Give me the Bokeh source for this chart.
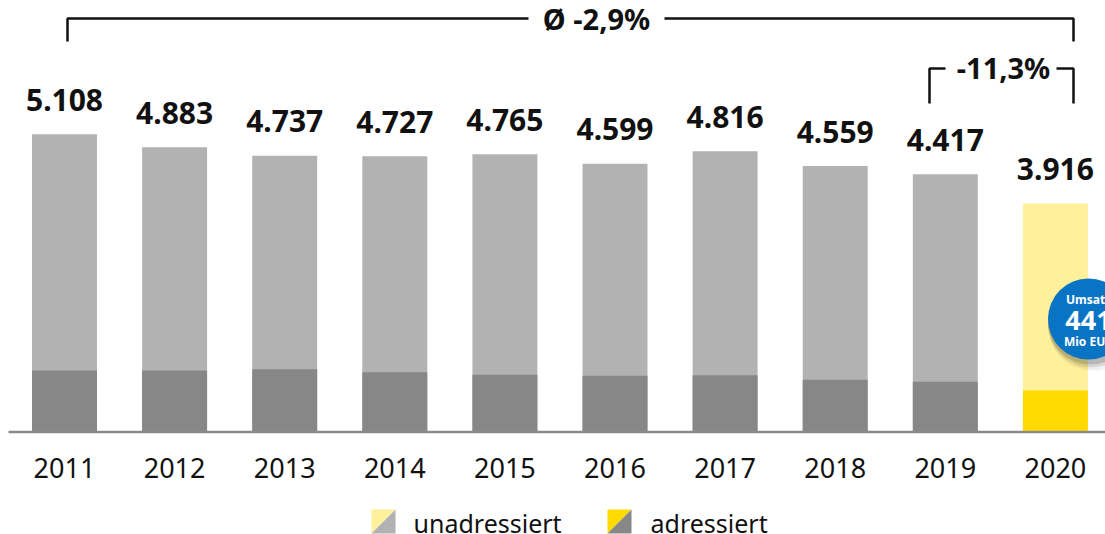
from bokeh.plotting import figure
from bokeh.models import Range1d
from bokeh.core.properties import value
from bokeh.embed import file_html
from bokeh.resources import INLINE

# ---- data ----
years = ["2011", "2012", "2013", "2014", "2015", "2016", "2017", "2018", "2019", "2020"]
total = [5108, 4883, 4737, 4727, 4765, 4599, 4816, 4559, 4417, 3916]
addressed = [1041, 1041, 1063, 1012, 967, 950, 960, 881, 847, 697]
total_labels = ["5.108", "4.883", "4.737", "4.727", "4.765", "4.599", "4.816", "4.559", "4.417", "3.916"]
avg_label = "Ø -2,9%"
last_change_label = "-11,3%"
badge_lines = ["Umsatz", "441", "Mio EUR"]
legend_names = ["unadressiert", "adressiert"]

# ---- styles ----
GRAY_LIGHT = "#b2b2b2"
GRAY_DARK = "#878787"
YEL_LIGHT = "#fff09b"
YEL_DARK = "#ffda00"
BLUE = "#0a74c4"
FONT = "Noto Sans"

# page-pixel -> data helpers (for decorations only)
X0, DX = 64.0, 110.1
BASE, UNIT = 430.5, 5108 / 296.8
def xd(px):
    return (px - X0) / DX
def yd(py):
    return (BASE - py) * UNIT

W, H = 1105, 534
p = figure(width=W, height=H, output_backend="svg", toolbar_location=None,
           x_range=Range1d(xd(0), xd(W)), y_range=Range1d(yd(H), yd(0)),
           min_border=0, outline_line_color=None)
p.axis.visible = False
p.grid.visible = False
p.background_fill_color = "white"

idx = list(range(len(years)))
top_colors = [GRAY_LIGHT] * (len(years) - 1) + [YEL_LIGHT]
bot_colors = [GRAY_DARK] * (len(years) - 1) + [YEL_DARK]

p.vbar(x=idx, top=total, bottom=0, width=0.59, fill_color=top_colors, line_color=None)
p.vbar(x=idx, top=addressed, bottom=0, width=0.59, fill_color=bot_colors, line_color=None)

# baseline
p.line([xd(8), xd(W)], [yd(431.5), yd(431.5)], line_color="#8a8a8a", line_width=2.5)

# value labels
p.text(x=idx, y=total, text=total_labels, y_offset=-34.5, text_align="center",
       text_baseline="middle", text_font=value(FONT), text_font_style="bold",
       text_font_size="30px", text_color="#111111")
# year labels
p.text(x=idx, y=[0] * len(idx), text=years, y_offset=37, text_align="center",
       text_baseline="middle", text_font=value(FONT), text_font_size="27px",
       text_color="#111111")

# big bracket
p.line([xd(67), xd(67), xd(528)], [yd(41), yd(18), yd(18)], line_color="#111111", line_width=2.5)
p.line([xd(664), xd(1073), xd(1073)], [yd(18), yd(18), yd(41)], line_color="#111111", line_width=2.5)
p.text(x=[xd(596)], y=[yd(18)], text=[avg_label], text_align="center", text_baseline="middle",
       text_font=value(FONT), text_font_style="bold", text_font_size="29px", text_color="#111111")

# small bracket
p.line([xd(929), xd(929), xd(945)], [yd(103), yd(68), yd(68)], line_color="#111111", line_width=2.5)
p.line([xd(1056), xd(1073), xd(1073)], [yd(68), yd(68), yd(103)], line_color="#111111", line_width=2.5)
p.text(x=[xd(1003)], y=[yd(67)], text=[last_change_label], text_align="center", text_baseline="middle",
       text_font=value(FONT), text_font_style="bold", text_font_size="29px", text_color="#111111")

# blue badge with soft shadow
cx, cy = 1088, 318.5
for off, a in [(7, 0.06), (5, 0.10), (3, 0.14)]:
    p.scatter([xd(cx + off * 0.6)], [yd(cy + off)], marker="circle", size=82 + off,
              fill_color="#000000", fill_alpha=a, line_color=None)
p.scatter([xd(cx)], [yd(cy)], marker="circle", size=81, fill_color=BLUE, line_color=None)
p.text(x=[xd(cx)], y=[yd(299)], text=[badge_lines[0]], text_align="center", text_baseline="middle",
       text_font=value(FONT), text_font_style="bold", text_font_size="12px", text_color="white")
p.text(x=[xd(cx)], y=[yd(320)], text=[badge_lines[1]], text_align="center", text_baseline="middle",
       text_font=value(FONT), text_font_style="bold", text_font_size="27px", text_color="white")
p.text(x=[xd(cx)], y=[yd(341)], text=[badge_lines[2]], text_align="center", text_baseline="middle",
       text_font=value(FONT), text_font_style="bold", text_font_size="12px", text_color="white")

# legend
def swatch(x0, y0, s, c1, c2):
    p.patch([xd(x0), xd(x0 + s), xd(x0)], [yd(y0), yd(y0), yd(y0 + s)], fill_color=c1, line_color=None)
    p.patch([xd(x0 + s), xd(x0 + s), xd(x0)], [yd(y0), yd(y0 + s), yd(y0 + s)], fill_color=c2, line_color=None)

swatch(371, 509, 24, YEL_LIGHT, GRAY_LIGHT)
swatch(607, 509, 24, YEL_DARK, GRAY_DARK)
p.text(x=[xd(413), xd(650)], y=[yd(522), yd(522)], text=legend_names, text_align="left",
       text_baseline="middle", text_font=value(FONT), text_font_size="25px", text_color="#111111")

open("out.html", "w").write(file_html(p, INLINE))
